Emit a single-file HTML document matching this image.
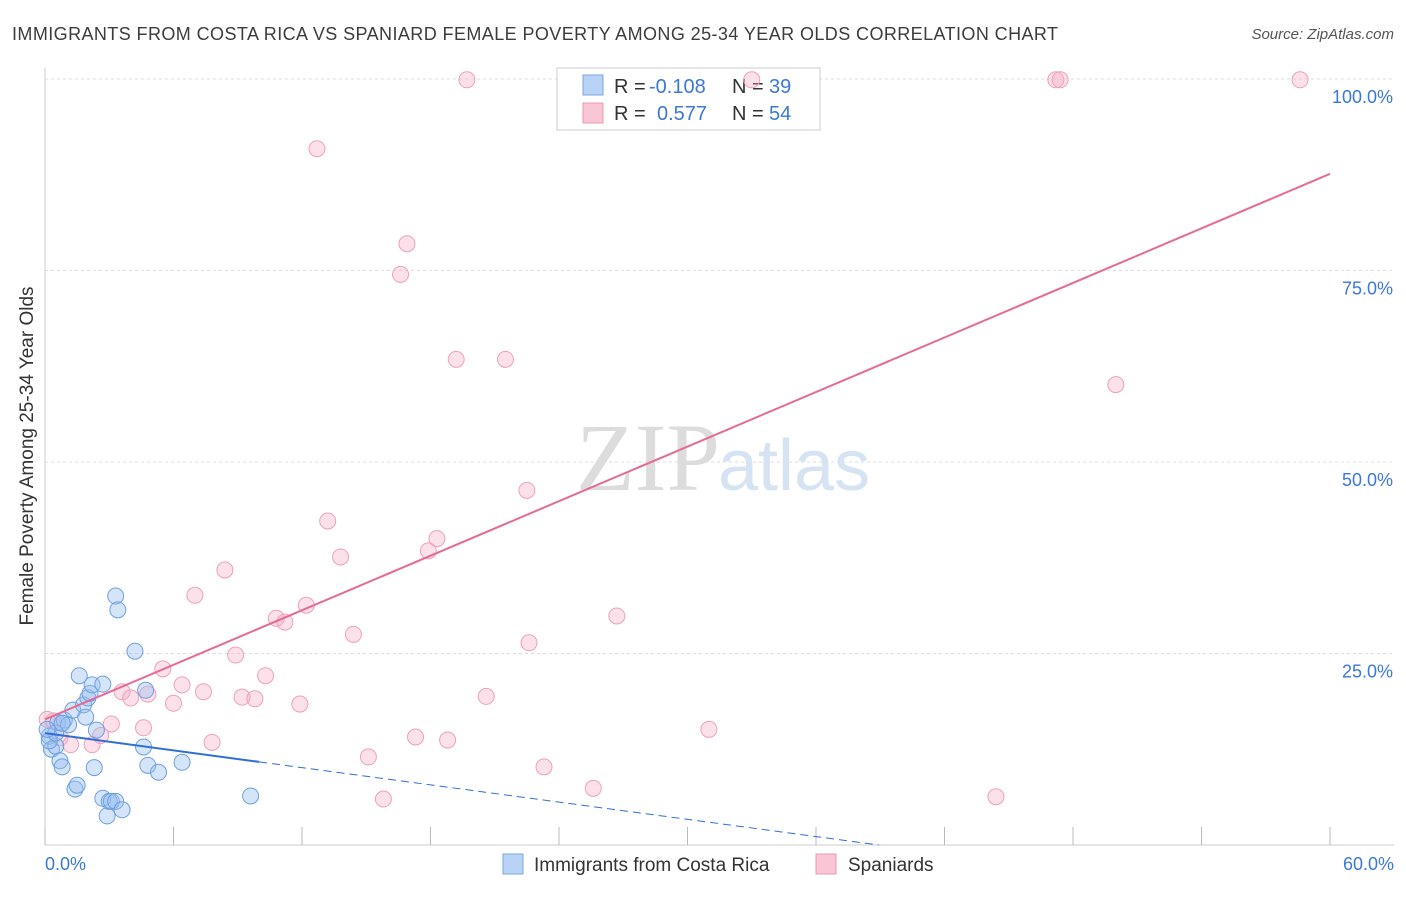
<!DOCTYPE html>
<html><head><meta charset="utf-8"><style>
body{margin:0;background:#fff;font-family:"Liberation Sans",sans-serif}
</style></head><body>
<svg width="1406" height="892" xmlns="http://www.w3.org/2000/svg">
<text x="12" y="40" font-size="18" fill="#3c3c3c" textLength="1046">IMMIGRANTS FROM COSTA RICA VS SPANIARD FEMALE POVERTY AMONG 25-34 YEAR OLDS CORRELATION CHART</text>
<text x="1394" y="39" font-size="15" fill="#555" font-style="italic" text-anchor="end">Source: ZipAtlas.com</text>
<g id="grid"></g>
<text x="720" y="490" font-size="96" fill="#dcdcdc" text-anchor="end" font-family="Liberation Serif">ZIP</text>
<text x="718" y="490" font-size="72" fill="#d5e3f3">atlas</text>
<g>
<rect x="557" y="68" width="263" height="62" fill="#fff" stroke="#ccc"/>
<rect x="583" y="75" width="20" height="20" fill="#b8d3f5" stroke="#7aa7e0"/>
<rect x="583" y="103" width="20" height="20" fill="#f9c6d5" stroke="#ec98b2"/>
<text x="614" y="93" font-size="20" fill="#333">R =</text>
<text x="649" y="93" font-size="20" fill="#3b78d8">-0.108</text>
<text x="732" y="93" font-size="20" fill="#333">N =</text>
<text x="769" y="93" font-size="20" fill="#3b78d8">39</text>
<text x="614" y="120" font-size="20" fill="#333">R =</text>
<text x="657" y="120" font-size="20" fill="#3b78d8">0.577</text>
<text x="732" y="120" font-size="20" fill="#333">N =</text>
<text x="769" y="120" font-size="20" fill="#3b78d8">54</text>
</g>
<g id="marks"></g>
<text x="33" y="456" font-size="19" fill="#333" text-anchor="middle" transform="rotate(-90 33 456)">Female Poverty Among 25-34 Year Olds</text>
<text x="45" y="870" font-size="18" fill="#3b78d8">0.0%</text>
<text x="1394" y="870" font-size="18" fill="#3b78d8" text-anchor="end">60.0%</text>
<g>
<rect x="503" y="854" width="20" height="20" fill="#b8d3f5" stroke="#7aa7e0"/>
<text x="534" y="871" font-size="19" fill="#333">Immigrants from Costa Rica</text>
<rect x="816" y="854" width="20" height="20" fill="#f9c6d5" stroke="#ec98b2"/>
<text x="848" y="871" font-size="19" fill="#333">Spaniards</text>
</g>
</svg>
<script>
const blueX=[0.2,0.3,0.5,0.6,0.7,0.8,0.9,1.1,1.3,1.4,1.5,1.6,1.8,1.9,2.0,2.1,2.2,2.3,2.4,2.7,2.7,2.9,3.0,3.1,3.3,3.3,3.4,3.6,4.2,4.6,4.7,4.8,5.3,6.4,9.6,0.2,0.5,0.8,0.1];
const blueY=[14.2,12.5,12.9,16.0,11.0,10.2,16.3,15.7,17.6,7.3,7.8,22.1,18.3,16.7,19.2,19.8,20.9,10.1,15.0,21.0,6.1,3.8,5.7,5.7,5.7,32.5,30.7,4.6,25.3,12.8,20.2,10.4,9.5,10.8,6.4,13.6,14.6,15.9,15.1];
const pinkX=[19.7,33.0,47.2,47.4,58.6,12.7,16.9,16.6,19.2,21.5,50.0,22.5,13.2,18.3,17.9,13.8,8.4,7.0,12.2,26.7,10.8,11.2,14.4,22.6,8.9,5.5,10.3,6.4,3.6,4.8,7.4,20.6,4.0,9.2,9.8,6.0,11.9,3.1,4.6,31.0,2.6,2.2,18.8,17.3,7.8,0.4,0.1,0.7,1.2,15.1,23.3,25.6,15.8,44.4];
const pinkY=[99.9,99.9,99.9,99.9,99.9,90.9,78.5,74.5,63.4,63.4,60.1,46.3,42.3,40.0,38.4,37.6,35.9,32.6,31.3,29.9,29.6,29.1,27.5,26.4,24.8,23.0,22.1,20.9,20.0,19.7,20.0,19.4,19.2,19.3,19.1,18.5,18.4,15.8,15.3,15.1,14.3,13.1,13.7,14.1,13.4,16.2,16.4,14.0,13.1,11.5,10.2,7.4,6.0,6.3];
const yTicks=[100,75,50,25];
const xTickVals=[0,6,12,18,24,30,36,42,48,54,60];
const blueFit=[14.6,-0.375];
const pinkFit=[16.4,1.187];
const X=v=>45+v/60*1285, Y=v=>845-v*7.66;
const NS="http://www.w3.org/2000/svg";
function mk(p,t,a){const e=document.createElementNS(NS,t);for(const k in a)e.setAttribute(k,a[k]);p.appendChild(e);return e;}
const g=document.getElementById('grid'), m=document.getElementById('marks');
mk(g,'line',{x1:45,y1:68,x2:45,y2:845,stroke:'#ccc'});
const xa=mk(g,'line',{x1:45,y1:845,x2:1394,y2:845,stroke:'#ccc'});


yTicks.forEach(t=>{
 const l=mk(g,'line',{x1:45,y1:Y(t),x2:1394,y2:Y(t),stroke:'#ddd','stroke-dasharray':'3,3'});
 
 
 const tx=mk(g,'text',{x:1393,y:Y(t)+24,'font-size':18,fill:'#3b78d8','text-anchor':'end'});
 tx.textContent=t.toFixed(1)+'%';
 
 
});
xTickVals.forEach(t=>{
 const l=mk(g,'line',{x1:X(t),y1:827,x2:X(t),y2:845,stroke:'#bbb'});
 
 
});
pinkX.forEach((x,i)=>{
 const c=mk(m,'circle',{cx:X(x),cy:Y(pinkY[i]),r:8,fill:'rgba(246,170,195,0.35)',stroke:'#eea0ba','stroke-width':1});
 
 
});
blueX.forEach((x,i)=>{
 const c=mk(m,'circle',{cx:X(x),cy:Y(blueY[i]),r:8,fill:'rgba(150,190,240,0.4)',stroke:'#6e9fe0','stroke-width':1});
 
 
});
const pl=mk(m,'line',{x1:X(0),y1:Y(pinkFit[0]),x2:X(60),y2:Y(pinkFit[0]+pinkFit[1]*60),stroke:'#e56a94','stroke-width':2});


const bl=mk(m,'line',{x1:X(0),y1:Y(blueFit[0]),x2:X(10),y2:Y(blueFit[0]+blueFit[1]*10),stroke:'#2f6fd6','stroke-width':2});


const x0=-blueFit[0]/blueFit[1];
const bd=mk(m,'line',{x1:X(10),y1:Y(blueFit[0]+blueFit[1]*10),x2:X(x0),y2:Y(0),stroke:'#2f6fd6','stroke-width':1,'stroke-dasharray':'8,5'});


</script>
</body></html>
